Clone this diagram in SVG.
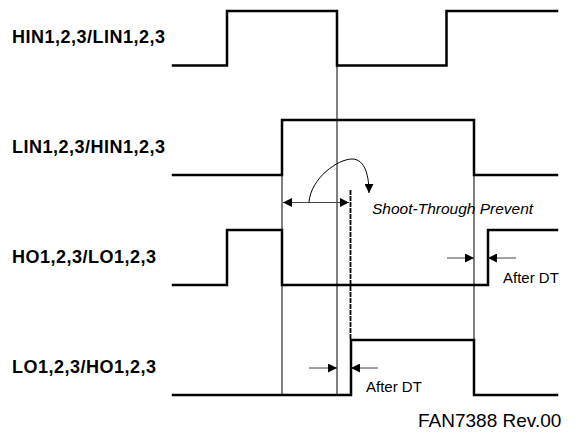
<svg xmlns="http://www.w3.org/2000/svg" width="582" height="434" viewBox="0 0 582 434">
<defs>
<style>
.wave{fill:none;stroke:#000;stroke-width:2.5;stroke-linejoin:miter;stroke-linecap:square}
.guide{fill:none;stroke:#000;stroke-width:1}
.arr{fill:none;stroke:#444;stroke-width:1}
.lbl{font-family:"Liberation Sans",Arial,sans-serif;font-weight:bold;font-size:18px;letter-spacing:0.5px;fill:#000}
.note{font-family:"Liberation Sans",Arial,sans-serif;font-size:15px;fill:#000}
</style>
<marker id="ah" viewBox="0 0 10 10" refX="10" refY="5" markerWidth="9" markerHeight="9" markerUnits="userSpaceOnUse" orient="auto">
<path d="M0,0 L10,5 L0,10 Z" fill="#000"/>
</marker>
</defs>
<rect width="582" height="434" fill="#fff"/>
<g id="hin">
<text class="lbl" x="12" y="43">HIN1,2,3/LIN1,2,3</text>
<polyline class="wave" points="173,65.5 227,65.5 227,11 337,11 337,65.5 446.5,65.5 446.5,11 557,11"/>
</g>
<g id="lin">
<text class="lbl" x="12" y="153">LIN1,2,3/HIN1,2,3</text>
<polyline class="wave" points="173,175 282,175 282,120 474,120 474,175 557,175"/>
</g>
<g id="ho">
<text class="lbl" x="12" y="263">HO1,2,3/LO1,2,3</text>
<polyline class="wave" points="173,285 227,285 227,230 282,230 282,285 488,285 488,230 557,230"/>
</g>
<g id="lo">
<text class="lbl" x="12" y="373">LO1,2,3/HO1,2,3</text>
<polyline class="wave" points="173,395 351,395 351,340 474,340 474,395 557,395"/>
</g>
<g id="guides">
<line class="guide" x1="282" y1="120" x2="282" y2="395"/>
<line class="guide" x1="337" y1="65" x2="337" y2="395"/>
<line class="guide" x1="474" y1="175" x2="474" y2="340"/>
<line x1="350.5" y1="190" x2="350.5" y2="340" stroke="#000" stroke-width="1.8" stroke-dasharray="5,1"/>
</g>
<g id="connectors">
<line class="arr" x1="310" y1="202.5" x2="283" y2="202.5" marker-end="url(#ah)"/>
<line class="arr" x1="310" y1="202.5" x2="349" y2="202.5" marker-end="url(#ah)"/>
<path class="guide" d="M309,202 C311,178 338,159 352,159 C366,159 369,178 369,193" marker-end="url(#ah)"/>
<line class="arr" x1="447" y1="258" x2="474" y2="258" marker-end="url(#ah)"/>
<line class="arr" x1="516" y1="258" x2="488" y2="258" marker-end="url(#ah)"/>
<line class="arr" x1="309" y1="368" x2="337" y2="368" marker-end="url(#ah)"/>
<line class="arr" x1="378" y1="368" x2="351" y2="368" marker-end="url(#ah)"/>
</g>
<g id="notes">
<text class="note" x="372" y="214" font-style="italic" style="font-size:15.5px">Shoot-Through Prevent</text>
<text class="note" x="503" y="283">After DT</text>
<text class="note" x="366" y="392">After DT</text>
<text class="note" x="418" y="427" style="font-size:19px">FAN7388 Rev.00</text>
</g>
</svg>
